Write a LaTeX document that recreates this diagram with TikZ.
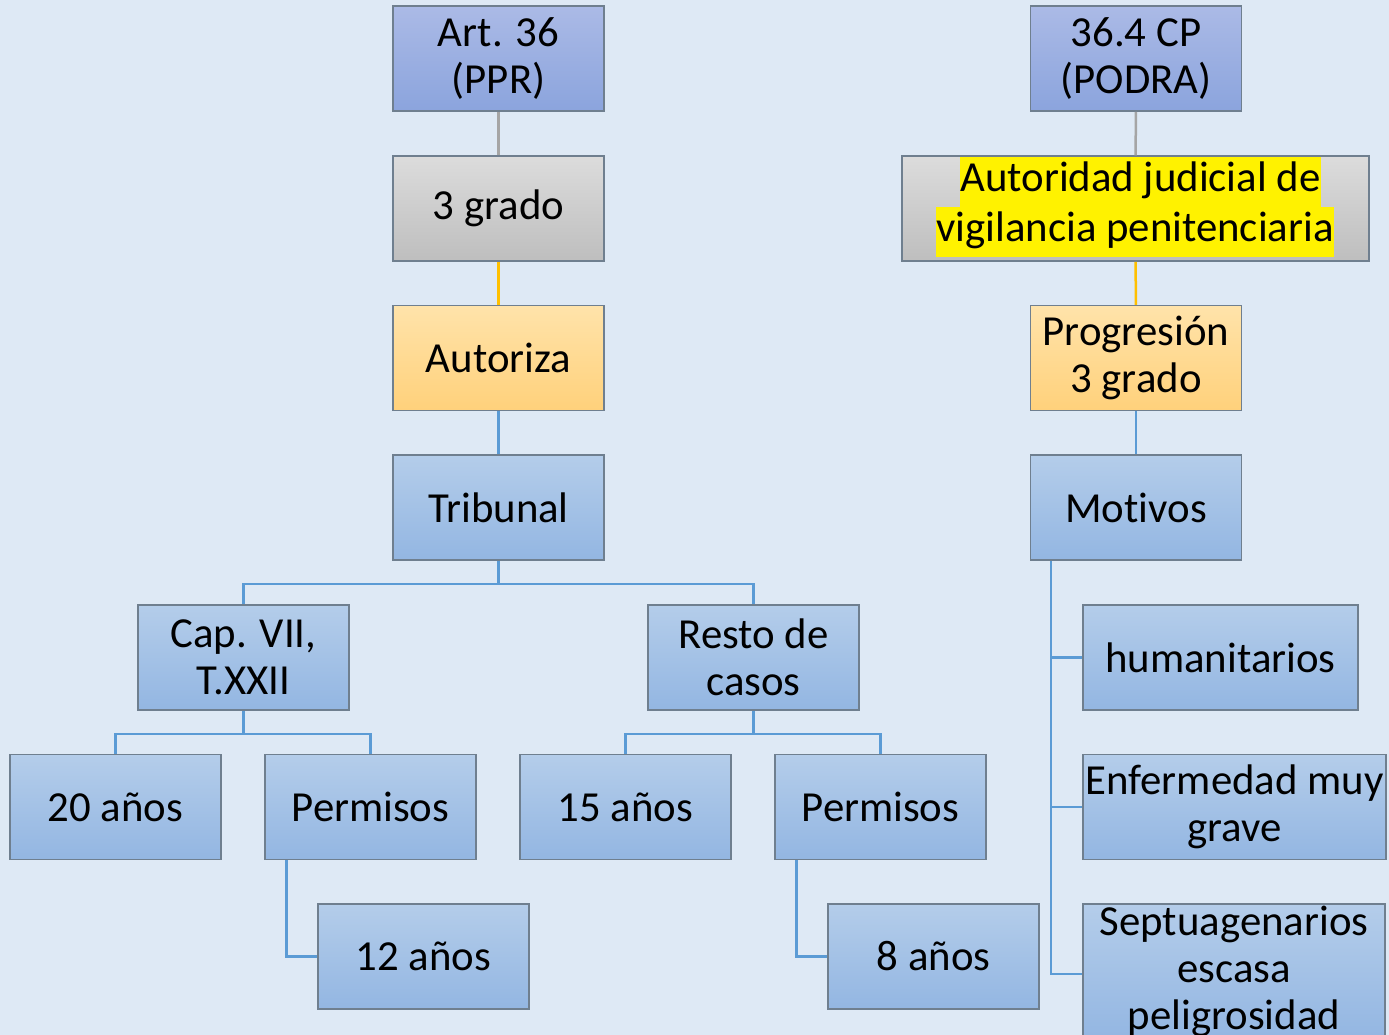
\documentclass[tikz,border=0pt]{standalone}
\usepackage{fontspec}
\setmainfont[Ligatures=NoCommon]{Carlito}
\usetikzlibrary{positioning}
\definecolor{bgblue}{HTML}{DEE9F5}
\definecolor{boxedge}{HTML}{6F7F8F}
\definecolor{blueA}{HTML}{B4CDEA}
\definecolor{blueB}{HTML}{93B6E2}
\definecolor{lilaA}{HTML}{ABBAE6}
\definecolor{lilaB}{HTML}{8BA4DD}
\definecolor{grisA}{HTML}{DCDCDC}
\definecolor{grisB}{HTML}{BEBEBE}
\definecolor{naranjaA}{HTML}{FFE3AA}
\definecolor{naranjaB}{HTML}{FFD17B}
\definecolor{lineblue}{HTML}{5B9BD5}
\definecolor{linegold}{HTML}{FFC000}
\definecolor{linegray}{HTML}{A5A5A5}

\begin{document}
\begin{tikzpicture}[x=0.5pt,y=-0.5pt,
		box/.style={draw=boxedge, line width=0.75pt, inner sep=0pt, align=center,
			minimum width=105.5pt, minimum height=52.5pt,
			top color=blueA, bottom color=blueB,
			font=\fontsize{21.4}{23.5}\selectfont},
		lila/.style={top color=lilaA, bottom color=lilaB},
		gris/.style={top color=grisA, bottom color=grisB},
		naranja/.style={top color=naranjaA, bottom color=naranjaB},
		hl/.style={fill=yellow, inner xsep=0pt, inner ysep=0pt, minimum height=25pt,
			text height=14.5pt, text depth=5pt, font=\fontsize{21.4}{23.5}\selectfont},
		conn/.style={line width=1.25pt, lineblue},
		conngold/.style={line width=1.25pt, linegold},
		conngray/.style={line width=1.25pt, linegray}]
	\useasboundingbox[fill=bgblue] (0,0) rectangle (1389,1035);
	% left column
	\node[box,lila] (art) at (498.5,58.5) {Art. 36\\(PPR)};
	\node[box,gris] (tres) at (498.5,208.5) {3 grado};
	\node[box,naranja] (autz) at (498.5,358) {Autoriza};
	\node[box] (trib) at (498.5,507.5) {Tribunal};
	\node[box] (cap) at (243.5,657.5) {Cap. VII,\\T.XXII};
	\node[box] (resto) at (753.5,657.5) {Resto de\\casos};
	\node[box] (veinte) at (115.5,807) {20 años};
	\node[box] (permA) at (370.5,807) {Permisos};
	\node[box] (quince) at (625.5,807) {15 años};
	\node[box] (permB) at (880.5,807) {Permisos};
	\node[box] (doce) at (423.5,956.5) {12 años};
	\node[box] (ocho) at (933.5,956.5) {8 años};
	% right column
	\node[box,lila] (cp) at (1136,58.5) {36.4 CP\\(PODRA)};
	\node[box,gris,minimum width=233.5pt] (juez) at (1135.5,208.5) {};
	\node[hl] (juezA) at (1140.5,182) {Autoridad judicial de\ };
	\node[hl] (juezB) at (1135,232) {vigilancia penitenciaria};
	\node[box,naranja] (prog) at (1136,358) {Progresión\\3 grado};
	\node[box] (mot) at (1136,507.5) {Motivos};
	\node[box,minimum width=137.5pt] (hum) at (1220.5,657.5) {humanitarios};
	\node[box,minimum width=151.5pt] (enf) at (1234.5,807) {Enfermedad muy\\grave};
	\node[box,minimum width=151pt,minimum height=68pt] (sept) at (1234,972) {};
	\node[align=center,font=\fontsize{21.4}{23.5}\selectfont] (septT) at (1234,971) {Septuagenarios\\escasa\\peligrosidad};
	% connectors
	\draw[conngray] (art) -- (tres);
	\draw[conngold] (tres) -- (autz);
	\draw[conn] (autz) -- (trib);
	\draw[conn] (trib.south) -- ++(0,23) -| (cap.north);
	\draw[conn] (trib.south) -- ++(0,23) -| (resto.north);
	\draw[conn] (cap.south) -- ++(0,23) -| (veinte.north);
	\draw[conn] (cap.south) -- ++(0,23) -| (permA.north);
	\draw[conn] (resto.south) -- ++(0,23) -| (quince.north);
	\draw[conn] (resto.south) -- ++(0,23) -| (permB.north);
	\draw[conn] ([xshift=11pt]permA.south west) |- (doce.west);
	\draw[conn] ([xshift=11pt]permB.south west) |- (ocho.west);
	\draw[conngray] (cp) -- (juez);
	\draw[conngold] (juez) -- (prog);
	\draw[conn] (prog) -- (mot);
	\draw[conn] ([xshift=10.5pt]mot.south west) |- (hum.west);
	\draw[conn] ([xshift=10.5pt]mot.south west) |- (enf.west);
	\draw[conn] ([xshift=10.5pt]mot.south west) |- ([yshift=-1pt]sept.west);
\end{tikzpicture}
\end{document}
